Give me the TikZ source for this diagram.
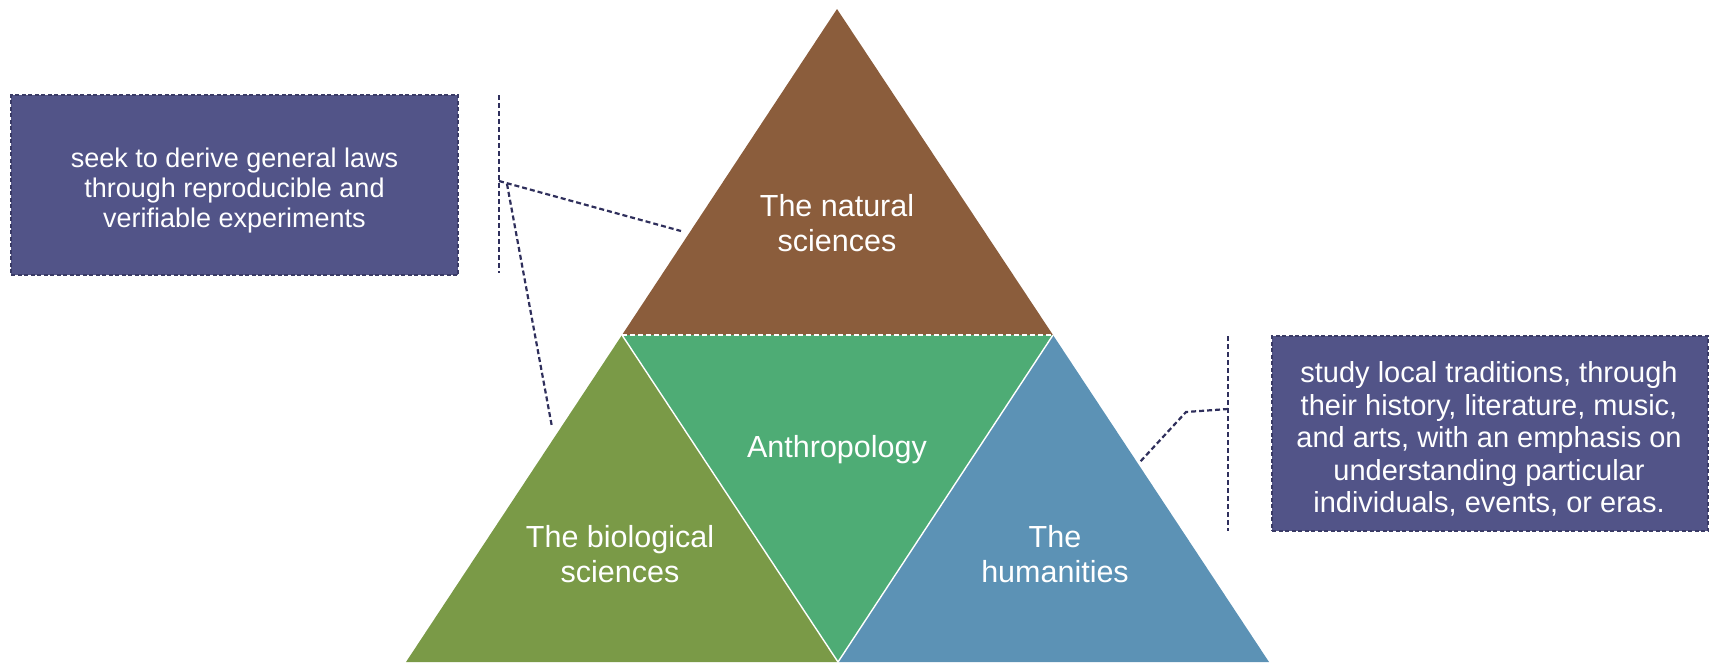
\documentclass[tikz,border=0pt]{standalone}
\usepackage{fontspec}
\setmainfont{Liberation Sans}
\definecolor{brownT}{HTML}{8B5D3C}
\definecolor{oliveT}{HTML}{7A9A47}
\definecolor{greenT}{HTML}{4EAC75}
\definecolor{blueT}{HTML}{5C92B5}
\definecolor{boxfill}{HTML}{525488}
\definecolor{boxline}{HTML}{3A3B66}
\definecolor{conline}{HTML}{2F2F5C}
\begin{document}
\begin{tikzpicture}[x=1pt,y=-1pt,
  infobox/.style={draw=boxline, fill=boxfill, line width=1.5pt, dash pattern=on 4pt off 2.5pt, inner sep=0pt},
  boxtext/.style={text=white, align=center, inner sep=0pt, font=\fontsize{27}{30}\selectfont},
  tlabel/.style={text=white, align=center, inner sep=0pt, font=\fontsize{30.5}{35}\selectfont},
  conn/.style={draw=conline, line width=2.2pt, dash pattern=on 5pt off 3pt},
  sep/.style={draw=white, line width=1.4pt}
]
\useasboundingbox (0,0) rectangle (1711,662);

% triangles
\coordinate (topA) at (837,9);
\coordinate (L) at (622,335);
\coordinate (R) at (1053,335);
\coordinate (BL) at (406,662);
\coordinate (BM) at (838,662);
\coordinate (BR) at (1269,662);

\fill[brownT] (topA) -- (L) -- (R) -- cycle;
\fill[oliveT] (L) -- (BL) -- (BM) -- cycle;
\fill[blueT] (R) -- (BM) -- (BR) -- cycle;
\fill[greenT] (L) -- (R) -- (BM) -- cycle;
\draw[sep] (L) -- (BM) -- (R);
\draw[sep, dash pattern=on 5pt off 3pt] (L) -- (R);

% labels
\node[tlabel] (nat) at (837,223) {The natural\\sciences};
\node[tlabel] (anth) at (837,450) {Anthropology};
\node[tlabel] (bio) at (620,554) {The biological\\sciences};
\node[tlabel] (hum) at (1055,554) {The\\humanities};

% boxes
\node[infobox, minimum width=447pt, minimum height=180pt] (lbox) at (234.5,185) {};
\node[boxtext] (ltext) at (234.5,191)
  {seek to derive general laws\\through reproducible and\\verifiable experiments};
\node[infobox, minimum width=436pt, minimum height=195pt] (rbox) at (1490,433.5) {};
\node[boxtext, font=\fontsize{29}{32.5}\selectfont] (rtext) at (1489,439)
  {study local traditions, through\\their history, literature, music,\\and arts, with an emphasis on\\understanding particular\\individuals, events, or eras.};

% connectors
\coordinate (lvt) at (499,95);
\coordinate (lvb) at (499,273);
\coordinate (lj1) at (499,181);
\coordinate (lj2) at (507,184);
\coordinate (natp) at (681,231);
\coordinate (biop) at (552,427);
\draw[conn] (lvt) -- (lvb);
\draw[conn] (lj1) -- (natp);
\draw[conn] (lj2) -- (biop);

\coordinate (rvt) at (1228,336);
\coordinate (rvb) at (1228,531);
\coordinate (rj) at (1228,409);
\coordinate (rk) at (1186,412);
\coordinate (hump) at (1139,463);
\draw[conn] (rvt) -- (rvb);
\draw[conn] (rj) -- (rk) -- (hump);
\end{tikzpicture}
\end{document}
